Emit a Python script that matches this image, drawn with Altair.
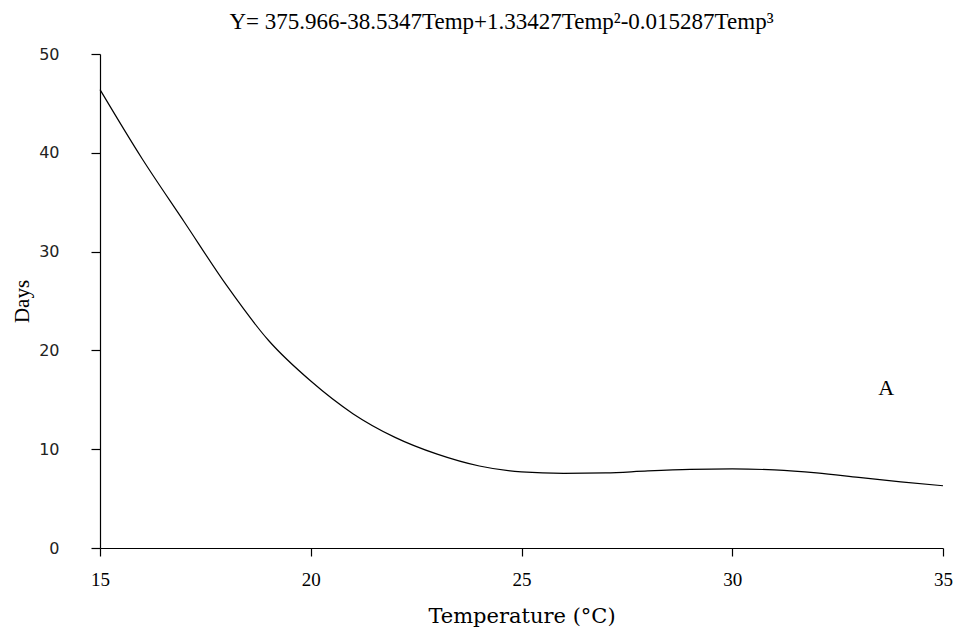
import altair as alt
import pandas as pd

# Values
temp = [15, 16, 17, 18, 19, 20, 21, 22, 23, 24, 25, 26, 27, 28, 29, 30, 31, 32, 33, 34, 35]
days = [46.4, 39.4, 33.0, 26.6, 21.0, 16.9, 13.6, 11.2, 9.5, 8.3, 7.7, 7.55, 7.6, 7.8, 7.95, 8.0, 7.9, 7.6, 7.15, 6.7, 6.3]

label_text = ["A"]
label_x = [33.65]
label_y = [16.2]

title_text = "Y= 375.966-38.5347Temp+1.33427Temp²-0.015287Temp³"

df = pd.DataFrame({"Temp": temp, "Days": days})
lab = pd.DataFrame({"t": label_text, "x": label_x, "y": label_y})

xscale = alt.Scale(domain=[15, 35], nice=False, zero=False)
yscale = alt.Scale(domain=[0, 50], nice=False)

line = alt.Chart(df).mark_line(color="black", strokeWidth=1.2, interpolate="monotone").encode(
    x=alt.X("Temp:Q", scale=xscale,
            axis=alt.Axis(title="Temperature (°C)", values=[15, 20, 25, 30, 35], grid=False,
                          domainColor="black", tickColor="black", tickSize=8, domainWidth=1.2, tickWidth=1.2,
                          labelFont="Liberation Serif", labelFontSize=19, labelColor="black", labelPadding=14,
                          labelFlush=False,
                          titleFont="DejaVu Serif", titleFontSize=21, titleFontWeight="normal",
                          titleColor="black", titlePadding=16)),
    y=alt.Y("Days:Q", scale=yscale,
            axis=alt.Axis(title="Days", values=[0, 10, 20, 30, 40, 50], grid=False,
                          domainColor="black", tickColor="black", tickSize=9, domainWidth=1.2, tickWidth=1.2,
                          labelFont="DejaVu Sans", labelFontSize=16, labelColor="#222", labelPadding=32,
                          titleFont="Liberation Serif", titleFontSize=21, titleFontWeight="normal",
                          titleColor="black", titlePadding=6)),
)

text = alt.Chart(lab).mark_text(font="Liberation Serif", fontSize=22, color="black").encode(
    x=alt.X("x:Q", scale=xscale), y=alt.Y("y:Q", scale=yscale), text="t:N"
)

chart = alt.layer(line, text).properties(
    width=843,
    height=494,
    title=alt.TitleParams(title_text, font="Liberation Serif", fontSize=23, fontWeight="normal",
                          color="black", anchor="middle", offset=12, dx=-20),
    autosize=alt.AutoSizeParams(type="none"),
    padding={"left": 92, "top": 46, "right": 10, "bottom": 81},
).configure_view(stroke=None)

chart.save("out.html", embed_options={"renderer": "svg", "actions": False})
